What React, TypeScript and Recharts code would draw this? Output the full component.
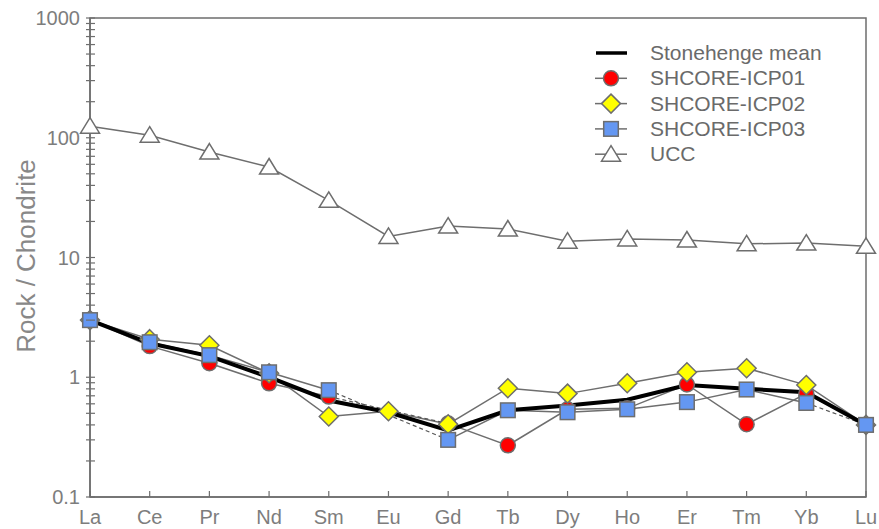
import React from "react";
import { LineChart, Line, XAxis, YAxis, ReferenceArea, Legend } from "recharts";

const elements = ["La", "Ce", "Pr", "Nd", "Sm", "Eu", "Gd", "Tb", "Dy", "Ho", "Er", "Tm", "Yb", "Lu"];
const stonehengeMean = [3.0, 1.92, 1.5, 1.0, 0.64, 0.51, 0.36, 0.53, 0.58, 0.65, 0.86, 0.8, 0.75, 0.4];
const icp01 = [3.0, 1.82, 1.31, 0.89, 0.69, null, 0.41, 0.27, 0.54, 0.55, 0.87, 0.405, 0.73, 0.4];
const icp02 = [3.0, 2.08, 1.85, 1.08, 0.47, 0.52, 0.405, 0.81, 0.73, 0.89, 1.1, 1.19, 0.86, 0.4];
const icp03 = [3.0, 1.96, 1.53, 1.1, 0.78, null, 0.3, 0.53, 0.51, 0.54, 0.62, 0.79, 0.61, 0.4];
const ucc = [125, 105, 76, 57, 30, 15, 18.3, 17.3, 13.7, 14.3, 14, 13, 13.2, 12.4];

const majorTicks = [0.1, 1, 10, 100, 1000];
const minorTicks = [
  0.2, 0.3, 0.4, 0.5, 0.6, 0.7, 0.8, 0.9,
  2, 3, 4, 5, 6, 7, 8, 9,
  20, 30, 40, 50, 60, 70, 80, 90,
  200, 300, 400, 500, 600, 700, 800, 900,
];

// dashed bridges drawn over missing / broken segments
const icp01Bridge = [["Sm", "Gd"]];
const icp03Bridge = [["Sm", "Gd"], ["Yb", "Lu"]];

const pick = (arr: (number | null)[], pair: string[]) =>
  elements.map((el, i) => (pair.includes(el) ? arr[i] : null));

const icp01Dash = pick(icp01, icp01Bridge[0]);
const icp03DashA = pick(icp03, icp03Bridge[0]);
const icp03DashB = pick(icp03, icp03Bridge[1]);

const data = elements.map((el, i) => ({
  el,
  mean: stonehengeMean[i],
  ucc: ucc[i],
  icp01: icp01[i],
  icp02: icp02[i],
  icp03: icp03[i],
  icp03Solid: el === "Lu" ? null : icp03[i],
  icp01Dash: icp01Dash[i],
  icp03DashA: icp03DashA[i],
  icp03DashB: icp03DashB[i],
}));

const FONT = "Liberation Sans, Arial, sans-serif";
const GRAY = "#6e6e6e";
const TEXT = "#7d7d7d";
const RED = "#ff0000";
const YELLOW = "#ffff00";
const BLUE = "#6497f2";

const ok = (cx: any, cy: any) => cx != null && cy != null && !isNaN(cx) && !isNaN(cy);

const CircleDot = (p: any) =>
  ok(p.cx, p.cy) ? (
    <circle key={p.index} cx={p.cx} cy={p.cy} r={7.5} fill={RED} stroke={GRAY} strokeWidth={1.5} />
  ) : (
    <g key={p.index} />
  );

const DiamondDot = (p: any) =>
  ok(p.cx, p.cy) ? (
    <polygon
      key={p.index}
      points={`${p.cx},${p.cy - 9.5} ${p.cx + 9.5},${p.cy} ${p.cx},${p.cy + 9.5} ${p.cx - 9.5},${p.cy}`}
      fill={YELLOW}
      stroke={GRAY}
      strokeWidth={1.5}
    />
  ) : (
    <g key={p.index} />
  );

const SquareDot = (p: any) =>
  ok(p.cx, p.cy) ? (
    <rect key={p.index} x={p.cx - 7.3} y={p.cy - 7.3} width={14.6} height={14.6} fill={BLUE} stroke={GRAY} strokeWidth={1.5} />
  ) : (
    <g key={p.index} />
  );

const TriangleDot = (p: any) =>
  ok(p.cx, p.cy) ? (
    <polygon
      key={p.index}
      points={`${p.cx},${p.cy - 8.5} ${p.cx + 9.5},${p.cy + 7} ${p.cx - 9.5},${p.cy + 7}`}
      fill="#ffffff"
      stroke={GRAY}
      strokeWidth={1.5}
    />
  ) : (
    <g key={p.index} />
  );

const YTick = (p: any) => {
  const v = p.payload.value;
  const major = majorTicks.includes(v);
  return (
    <g>
      <line x1={p.x - 4} x2={p.x + 5} y1={p.y} y2={p.y} stroke={GRAY} strokeWidth={1.2} />
      {major && (
        <text x={p.x - 10} y={p.y + 7} textAnchor="end" fontSize={20} fontFamily={FONT} fill={TEXT}>
          {String(v)}
        </text>
      )}
    </g>
  );
};

const XTick = (p: any) => (
  <g>
    <line x1={p.x} x2={p.x} y1={p.y} y2={p.y - 6} stroke={GRAY} strokeWidth={1.2} />
    <text x={p.x} y={p.y + 27} textAnchor="middle" fontSize={20} fontFamily={FONT} fill={TEXT}>
      {p.payload.value}
    </text>
  </g>
);

const YLabel = () => (
  <text
    x={35}
    y={256}
    transform="rotate(-90 35 256)"
    textAnchor="middle"
    fontSize={26}
    fontFamily={FONT}
    fill="#888888"
  >
    Rock / Chondrite
  </text>
);

const legendRows = [
  { name: "Stonehenge mean", kind: "mean" },
  { name: "SHCORE-ICP01", kind: "circle" },
  { name: "SHCORE-ICP02", kind: "diamond" },
  { name: "SHCORE-ICP03", kind: "square" },
  { name: "UCC", kind: "triangle" },
];

const LegendBox = () => (
  <svg width={270} height={140} style={{ display: "block" }}>
    {legendRows.map((r, i) => {
      const y = 23 + i * 25.3;
      const cx = 31;
      let marker = null;
      if (r.kind === "circle") marker = CircleDot({ cx, cy: y, index: i });
      if (r.kind === "diamond") marker = DiamondDot({ cx, cy: y, index: i });
      if (r.kind === "square") marker = SquareDot({ cx, cy: y, index: i });
      if (r.kind === "triangle") marker = TriangleDot({ cx, cy: y, index: i });
      return (
        <g key={r.name}>
          {r.kind === "mean" ? (
            <line x1={16} x2={47} y1={y} y2={y} stroke="#000" strokeWidth={3.5} />
          ) : (
            <line x1={15} x2={47} y1={y} y2={y} stroke={GRAY} strokeWidth={1.5} />
          )}
          {marker}
          <text x={70} y={y + 7} fontSize={21} fontFamily={FONT} fill="#6a6a6a">
            {r.name}
          </text>
        </g>
      );
    })}
  </svg>
);

export default function App() {
  return (
    <div style={{ position: "absolute", left: 0, top: 0, width: 879, height: 529, background: "#fff" }}>
      <LineChart width={879} height={529} data={data} margin={{ top: 18, right: 13, bottom: 0, left: 0 }}>
        <XAxis
          dataKey="el"
          height={32}
          axisLine={{ stroke: GRAY, strokeWidth: 1.5 }}
          tickLine={false}
          tickSize={0}
          tickMargin={0}
          interval={0}
          tick={<XTick />}
        />
        <YAxis
          type="number"
          scale="log"
          domain={[0.1, 1000]}
          allowDataOverflow
          ticks={[...majorTicks, ...minorTicks]}
          interval={0}
          width={90}
          axisLine={{ stroke: GRAY, strokeWidth: 1.5 }}
          tickLine={false}
          tickSize={0}
          tickMargin={0}
          tick={<YTick />}
          label={<YLabel />}
        />
        <ReferenceArea x1="La" x2="Lu" y1={0.1} y2={1000} fill="none" stroke={GRAY} strokeWidth={1.5} />
        <Legend
          layout="vertical"
          align="center"
          verticalAlign="middle"
          wrapperStyle={{ left: 580, top: 30, width: 270, height: 140 }}
          content={<LegendBox />}
        />

        <Line dataKey="ucc" stroke={GRAY} strokeWidth={1.5} dot={false} isAnimationActive={false} legendType="none" />
        <Line dataKey="icp01" stroke={GRAY} strokeWidth={1.5} dot={false} isAnimationActive={false} legendType="none" />
        <Line dataKey="icp02" stroke={GRAY} strokeWidth={1.5} dot={false} isAnimationActive={false} legendType="none" />
        <Line dataKey="icp03Solid" stroke={GRAY} strokeWidth={1.5} dot={false} isAnimationActive={false} legendType="none" />
        <Line dataKey="icp01Dash" connectNulls stroke="#555" strokeWidth={1.2} strokeDasharray="4 3" dot={false} isAnimationActive={false} legendType="none" />
        <Line dataKey="icp03DashA" connectNulls stroke="#555" strokeWidth={1.2} strokeDasharray="4 3" dot={false} isAnimationActive={false} legendType="none" />
        <Line dataKey="icp03DashB" connectNulls stroke="#555" strokeWidth={1.2} strokeDasharray="4 3" dot={false} isAnimationActive={false} legendType="none" />
        <Line dataKey="mean" stroke="#000" strokeWidth={4} dot={false} isAnimationActive={false} legendType="none" />

        <Line dataKey="ucc" stroke="none" dot={TriangleDot} isAnimationActive={false} legendType="none" />
        <Line dataKey="icp01" stroke="none" dot={CircleDot} isAnimationActive={false} legendType="none" />
        <Line dataKey="icp02" stroke="none" dot={DiamondDot} isAnimationActive={false} legendType="none" />
        <Line dataKey="icp03" stroke="none" dot={SquareDot} isAnimationActive={false} legendType="none" />
      </LineChart>
    </div>
  );
}
